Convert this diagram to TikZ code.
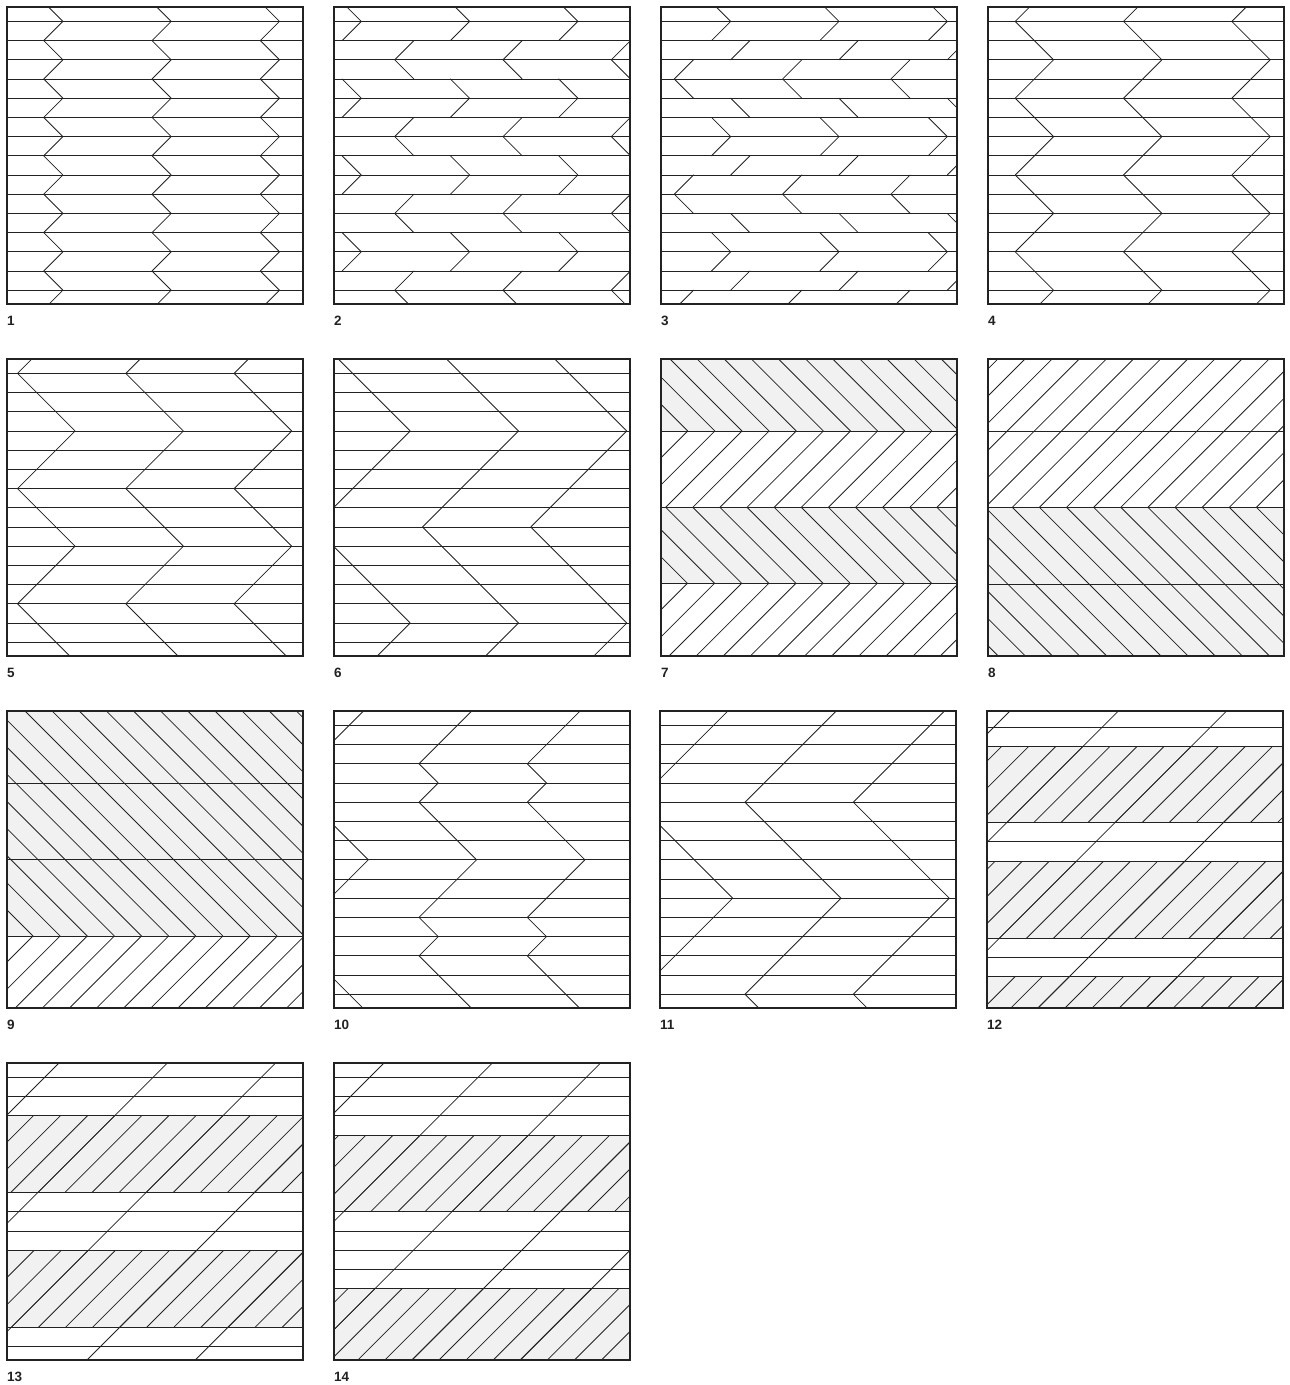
\documentclass[tikz,border=0pt]{standalone}
\usepackage{fontspec}
\setmainfont{Liberation Sans}
\definecolor{ink}{HTML}{222222}
\definecolor{gfill}{HTML}{F1F1F1}
\newcommand\Lk[1]{(14.4+19.2*(#1))}
\newcommand\zigzag[3]{%
  \draw[ln] ({#1},{\Lk{#2-4*(#3)}}) \foreach \j in {-3,...,16} { -- ({#1+(#3)*19.2*mod(abs(\j),2)},{\Lk{#2+\j*(#3)}}) };%
}
\tikzset{
  ln/.style={line width=0.8pt, draw=ink, line cap=round, line join=round},
  frame/.style={line width=1.25pt, draw=ink},
  lbl/.style={anchor=base west, font=\bfseries\fontsize{13.5}{13.5}\selectfont, inner sep=0pt, text=ink},
}
\begin{document}
\begin{tikzpicture}[x=1pt,y=-1pt]
\useasboundingbox (0,0) rectangle (1290,1385);
\fill[white] (0,0) rectangle (1290,1385);

% ---------- Panel 1
\begin{scope}[shift={(7,7)}]
 \begin{scope}
  \clip (0,0) rectangle (296,297);
  \foreach \k in {0,...,14} \draw[ln] (0,{\Lk{\k}}) -- (296,{\Lk{\k}});
  \foreach \n in {-1,...,3} {\zigzag{36.7+\n*108.3}{1}{1}}
 \end{scope}
 \draw[frame] (0,0) rectangle (296,297);
 \node[lbl] (l1) at (0,318.5) {1};
\end{scope}

% ---------- Panel 2
\begin{scope}[shift={(334,7)}]
 \begin{scope}
  \clip (0,0) rectangle (296,297);
  \foreach \k in {0,...,14} \draw[ln] (0,{\Lk{\k}}) -- (296,{\Lk{\k}});
  \foreach \n in {-1,...,3} \foreach \m in {-1,...,4} {
    \pgfmathsetmacro\xa{27.3+\n*108.3}
    \pgfmathsetmacro\xb{60.7+\n*108.3}
    \draw[ln] ({\xa-19.2},{\Lk{4*\m-1}}) -- (\xa,{\Lk{4*\m}}) -- ({\xa-19.2},{\Lk{4*\m+1}});
    \draw[ln] ({\xb+19.2},{\Lk{4*\m+1}}) -- (\xb,{\Lk{4*\m+2}}) -- ({\xb+19.2},{\Lk{4*\m+3}});
  }
 \end{scope}
 \draw[frame] (0,0) rectangle (296,297);
 \node[lbl] (l2) at (0,318.5) {2};
\end{scope}

% ---------- Panel 3
\begin{scope}[shift={(661,7)}]
 \begin{scope}
  \clip (0,0) rectangle (296,297);
  \foreach \k in {0,...,14} \draw[ln] (0,{\Lk{\k}}) -- (296,{\Lk{\k}});
  \foreach \n in {-1,...,3} \foreach \m in {-1,...,2} {
    \pgfmathsetmacro\xa{69.7+\n*108.3}
    \pgfmathsetmacro\xb{13.3+\n*108.3}
    \draw[ln] ({\xa-19.2},{\Lk{6*\m-1}}) -- (\xa,{\Lk{6*\m}}) -- ({\xa-19.2},{\Lk{6*\m+1}});
    \draw[ln] (\xa,{\Lk{6*\m+2}}) -- ({\xa+19.2},{\Lk{6*\m+1}});
    \draw[ln] ({\xb+19.2},{\Lk{6*\m+2}}) -- (\xb,{\Lk{6*\m+3}}) -- ({\xb+19.2},{\Lk{6*\m+4}});
    \draw[ln] (\xa,{\Lk{6*\m+4}}) -- ({\xa+19.2},{\Lk{6*\m+5}});
  }
 \end{scope}
 \draw[frame] (0,0) rectangle (296,297);
 \node[lbl] (l3) at (0,318.5) {3};
\end{scope}

% ---------- Panel 4
\begin{scope}[shift={(988,7)}]
 \begin{scope}
  \clip (0,0) rectangle (296,297);
  \foreach \k in {0,...,14} \draw[ln] (0,{\Lk{\k}}) -- (296,{\Lk{\k}});
  \foreach \n in {-1,...,3} {\zigzag{27.2+\n*108.3}{0}{2}}
 \end{scope}
 \draw[frame] (0,0) rectangle (296,297);
 \node[lbl] (l4) at (0,318.5) {4};
\end{scope}

% ---------- Panel 5
\begin{scope}[shift={(7,359)}]
 \begin{scope}
  \clip (0,0) rectangle (296,297);
  \foreach \k in {0,...,14} \draw[ln] (0,{\Lk{\k}}) -- (296,{\Lk{\k}});
  \foreach \n in {-1,...,3} {\zigzag{10.5+\n*108.3}{0}{3}}
 \end{scope}
 \draw[frame] (0,0) rectangle (296,297);
 \node[lbl] (l5) at (0,318.5) {5};
\end{scope}

% ---------- Panel 6
\begin{scope}[shift={(334,359)}]
 \begin{scope}
  \clip (0,0) rectangle (296,297);
  \foreach \k in {0,...,14} \draw[ln] (0,{\Lk{\k}}) -- (296,{\Lk{\k}});
  \foreach \n in {-1,...,3} {\zigzag{88.5+\n*108.3}{8}{5}}
 \end{scope}
 \draw[frame] (0,0) rectangle (296,297);
 \node[lbl] (l6) at (0,318.5) {6};
\end{scope}

% ---------- Panel 7
\begin{scope}[shift={(661,359)}]
 \fill[gfill] (0,0) rectangle (296,72);
 \fill[gfill] (0,148.3) rectangle (296,224.3);
 \begin{scope}
  \clip (0,0) rectangle (296,297);
  \foreach \v in {72,148.3,224.3} \draw[ln] (0,\v) -- (296,\v);
  \foreach \n in {-1,...,14} {
    \pgfmathsetmacro\xr{26.7+\n*27.13}
    \draw[ln] ({\xr-76.2},-4.2) -- (\xr,72) -- ({\xr-76.3},148.3) -- ({\xr-0.3},224.3) -- ({\xr-76.3},300.3);
  }
 \end{scope}
 \draw[frame] (0,0) rectangle (296,297);
 \node[lbl] (l7) at (0,318.5) {7};
\end{scope}

% ---------- Panel 8
\begin{scope}[shift={(988,359)}]
 \fill[gfill] (0,148.3) rectangle (296,297);
 \begin{scope}
  \clip (0,0) rectangle (296,297);
  \foreach \v in {72,148.3,225} \draw[ln] (0,\v) -- (296,\v);
  \foreach \n in {-6,...,11} {
    \pgfmathsetmacro\xr{24.3+\n*27.13}
    \draw[ln] ({\xr+148.3},0) -- (\xr,148.3) -- ({\xr+148.7},297);
  }
 \end{scope}
 \draw[frame] (0,0) rectangle (296,297);
 \node[lbl] (l8) at (0,318.5) {8};
\end{scope}

% ---------- Panel 9
\begin{scope}[shift={(7,711)}]
 \fill[gfill] (0,0) rectangle (296,225);
 \begin{scope}
  \clip (0,0) rectangle (296,297);
  \foreach \v in {72,148.3,225} \draw[ln] (0,\v) -- (296,\v);
  \foreach \n in {-1,...,20} {
    \pgfmathsetmacro\xr{26+\n*27.13}
    \draw[ln] ({\xr-225},0) -- (\xr,225) -- ({\xr-72},297);
  }
 \end{scope}
 \draw[frame] (0,0) rectangle (296,297);
 \node[lbl] (l9) at (0,318.5) {9};
\end{scope}

% ---------- Panel 10
\begin{scope}[shift={(334,711)}]
 \begin{scope}
  \clip (0,0) rectangle (296,297);
  \foreach \k in {0,...,14} \draw[ln] (0,{\Lk{\k}}) -- (296,{\Lk{\k}});
  \foreach \n in {-1,...,3} {
    \pgfmathsetmacro\xa{85+\n*108.3}
    \draw[ln] (\xa,{\Lk{-6}}) \foreach \k/\d in {-5/1,-4/0,-1/3,2/0,3/1,4/0,7/3,10/0,11/1,12/0,15/3,18/0} { -- ({\xa+\d*19.2},{\Lk{\k}}) };
  }
 \end{scope}
 \draw[frame] (0,0) rectangle (296,297);
 \node[lbl] (l10) at (0,318.5) {10};
\end{scope}

% ---------- Panel 11
\begin{scope}[shift={(660,711)}]
 \begin{scope}
  \clip (0,0) rectangle (296,297);
  \foreach \k in {0,...,14} \draw[ln] (0,{\Lk{\k}}) -- (296,{\Lk{\k}});
  \foreach \n in {-1,...,3} {\zigzag{85+\n*108.3}{4}{5}}
 \end{scope}
 \draw[frame] (0,0) rectangle (296,297);
 \node[lbl] (l11) at (0,318.5) {11};
\end{scope}

% ---------- Panel 12
\begin{scope}[shift={(987,711)}]
 \fill[gfill] (0,35.3) rectangle (296,111.7);
 \fill[gfill] (0,150) rectangle (296,227);
 \fill[gfill] (0,265.3) rectangle (296,297);
 \begin{scope}
  \clip (0,0) rectangle (296,297);
  \foreach \v in {16,35.3,111.7,130.7,150,227,246,265.3} \draw[ln] (0,\v) -- (296,\v);
  \foreach \m in {-1,...,5} {
    \pgfmathsetmacro\c{131.3+\m*108.32}
    \draw[ln] (\c,0) -- ({\c-297},297);
  }
 \end{scope}
 \begin{scope}
  \clip (0,35.3) rectangle (296,111.7) (0,150) rectangle (296,227) (0,265.3) rectangle (296,297);
  \foreach \m in {-5,...,22} {
    \pgfmathsetmacro\c{131.3+\m*27.08}
    \draw[ln] (\c,0) -- ({\c-297},297);
  }
 \end{scope}
 \draw[frame] (0,0) rectangle (296,297);
 \node[lbl] (l12) at (0,318.5) {12};
\end{scope}

% ---------- Panel 13
\begin{scope}[shift={(7,1063)}]
 \fill[gfill] (0,{\Lk{2}}) rectangle (296,{\Lk{6}});
 \fill[gfill] (0,{\Lk{9}}) rectangle (296,{\Lk{13}});
 \begin{scope}
  \clip (0,0) rectangle (296,297);
  \foreach \k in {0,1,2,6,7,8,9,13,14} \draw[ln] (0,{\Lk{\k}}) -- (296,{\Lk{\k}});
  \foreach \m in {-1,...,5} {
    \pgfmathsetmacro\c{52+\m*108.32}
    \draw[ln] (\c,0) -- ({\c-297},297);
  }
 \end{scope}
 \begin{scope}
  \clip (0,{\Lk{2}}) rectangle (296,{\Lk{6}}) (0,{\Lk{9}}) rectangle (296,{\Lk{13}});
  \foreach \m in {-5,...,22} {
    \pgfmathsetmacro\c{52+\m*27.08}
    \draw[ln] (\c,0) -- ({\c-297},297);
  }
 \end{scope}
 \draw[frame] (0,0) rectangle (296,297);
 \node[lbl] (l13) at (0,318.5) {13};
\end{scope}

% ---------- Panel 14
\begin{scope}[shift={(334,1063)}]
 \fill[gfill] (0,{\Lk{3}}) rectangle (296,{\Lk{7}});
 \fill[gfill] (0,{\Lk{11}}) rectangle (296,297);
 \begin{scope}
  \clip (0,0) rectangle (296,297);
  \foreach \k in {0,1,2,3,7,8,9,10,11} \draw[ln] (0,{\Lk{\k}}) -- (296,{\Lk{\k}});
  \foreach \m in {-1,...,5} {
    \pgfmathsetmacro\c{50+\m*108.32}
    \draw[ln] (\c,0) -- ({\c-297},297);
  }
 \end{scope}
 \begin{scope}
  \clip (0,{\Lk{3}}) rectangle (296,{\Lk{7}}) (0,{\Lk{11}}) rectangle (296,297);
  \foreach \m in {-5,...,22} {
    \pgfmathsetmacro\c{50+\m*27.08}
    \draw[ln] (\c,0) -- ({\c-297},297);
  }
 \end{scope}
 \draw[frame] (0,0) rectangle (296,297);
 \node[lbl] (l14) at (0,318.5) {14};
\end{scope}

\end{tikzpicture}
\end{document}
